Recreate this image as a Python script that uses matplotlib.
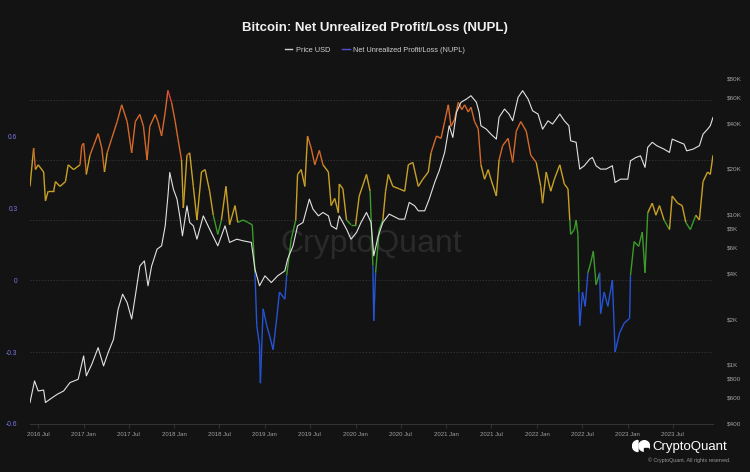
import matplotlib
matplotlib.use("Agg")
import matplotlib.pyplot as plt
import matplotlib.dates as mdates
from matplotlib.collections import LineCollection
from matplotlib.lines import Line2D
from matplotlib.patches import Wedge, Circle, Rectangle
import numpy as np
import pandas as pd

plt.rcParams['font.family'] = ['Liberation Sans', 'DejaVu Sans']

# NUPL readings (decimal year, value)
nupl_t = [2016.41, 2016.45, 2016.47, 2016.50, 2016.56, 2016.58, 2016.61, 2016.67, 2016.69, 2016.74,
          2016.80, 2016.83, 2016.89, 2016.96, 2016.98, 2017.00, 2017.03, 2017.07, 2017.11, 2017.16,
          2017.20, 2017.23, 2017.26, 2017.31, 2017.37, 2017.42, 2017.48, 2017.53, 2017.57, 2017.62,
          2017.66, 2017.70, 2017.73, 2017.79, 2017.82, 2017.86, 2017.90, 2017.93, 2017.97, 2018.01,
          2018.04, 2018.08, 2018.10, 2018.14, 2018.17, 2018.21, 2018.25, 2018.30, 2018.34, 2018.39,
          2018.43, 2018.48, 2018.52, 2018.57, 2018.61, 2018.67, 2018.70, 2018.76, 2018.81, 2018.86,
          2018.89, 2018.91, 2018.94, 2018.95, 2018.98, 2019.02, 2019.05, 2019.09, 2019.13, 2019.16,
          2019.22, 2019.24, 2019.29, 2019.34, 2019.36, 2019.40, 2019.44, 2019.47, 2019.51, 2019.55,
          2019.60, 2019.64, 2019.70, 2019.73, 2019.77, 2019.81, 2019.82, 2019.86, 2019.90, 2019.95,
          2020.00, 2020.04, 2020.12, 2020.16, 2020.19, 2020.20, 2020.22, 2020.26, 2020.30, 2020.33,
          2020.36, 2020.41, 2020.48, 2020.54, 2020.58, 2020.63, 2020.69, 2020.74, 2020.80, 2020.83,
          2020.89, 2020.94, 2020.98, 2021.02, 2021.05, 2021.09, 2021.13, 2021.17, 2021.20, 2021.24,
          2021.27, 2021.31, 2021.35, 2021.38, 2021.42, 2021.46, 2021.49, 2021.55, 2021.58, 2021.62,
          2021.68, 2021.73, 2021.77, 2021.82, 2021.88, 2021.93, 2021.99, 2022.04, 2022.06, 2022.10,
          2022.15, 2022.19, 2022.25, 2022.30, 2022.34, 2022.36, 2022.37, 2022.41, 2022.43, 2022.45,
          2022.46, 2022.47, 2022.50, 2022.53, 2022.56, 2022.59, 2022.62, 2022.65, 2022.69, 2022.70,
          2022.74, 2022.78, 2022.83, 2022.86, 2022.91, 2022.96, 2023.02, 2023.03, 2023.07, 2023.12,
          2023.16, 2023.19, 2023.22, 2023.27, 2023.31, 2023.35, 2023.40, 2023.46, 2023.49, 2023.55,
          2023.60, 2023.64, 2023.69, 2023.75, 2023.79, 2023.83, 2023.88, 2023.91, 2023.94]
nupl_v = [0.39, 0.55, 0.46, 0.48, 0.45, 0.33, 0.37, 0.37, 0.41, 0.39,
          0.41, 0.48, 0.46, 0.48, 0.56, 0.57, 0.44, 0.52, 0.56, 0.61,
          0.55, 0.45, 0.53, 0.59, 0.66, 0.73, 0.66, 0.53, 0.66, 0.69,
          0.64, 0.50, 0.64, 0.69, 0.66, 0.60, 0.70, 0.79, 0.74, 0.66,
          0.59, 0.50, 0.30, 0.52, 0.53, 0.39, 0.25, 0.45, 0.46, 0.37,
          0.27, 0.19, 0.25, 0.39, 0.23, 0.31, 0.24, 0.25, 0.24, 0.23,
          0.03, -0.19, -0.27, -0.43, -0.12, -0.19, -0.23, -0.29, -0.16, -0.05,
          -0.08, 0.02, 0.17, 0.25, 0.44, 0.46, 0.39, 0.60, 0.55, 0.48,
          0.54, 0.48, 0.45, 0.31, 0.34, 0.28, 0.40, 0.38, 0.25, 0.23,
          0.23, 0.35, 0.44, 0.37, 0.06, -0.17, 0.03, 0.21, 0.25, 0.37,
          0.44, 0.39, 0.38, 0.37, 0.48, 0.49, 0.39, 0.42, 0.45, 0.53,
          0.60, 0.59, 0.66, 0.73, 0.64, 0.67, 0.74, 0.71, 0.73, 0.70,
          0.72, 0.66, 0.63, 0.48, 0.42, 0.46, 0.42, 0.35, 0.50, 0.56,
          0.59, 0.49, 0.62, 0.66, 0.62, 0.52, 0.49, 0.39, 0.32, 0.45,
          0.37, 0.42, 0.48, 0.40, 0.38, 0.25, 0.19, 0.21, 0.25, 0.19,
          -0.05, -0.19, -0.05, -0.11, 0.03, 0.07, 0.12, -0.02, 0.03, -0.14,
          -0.05, -0.11, 0.00, -0.30, -0.22, -0.18, -0.16, 0.02, 0.16, 0.14,
          0.20, 0.03, 0.28, 0.32, 0.27, 0.31, 0.25, 0.21, 0.35, 0.32,
          0.31, 0.24, 0.21, 0.27, 0.25, 0.41, 0.45, 0.44, 0.52]

# BTC price readings (decimal year, USD)
price_t = [2016.41, 2016.46, 2016.50, 2016.56, 2016.58, 2016.63, 2016.71, 2016.78, 2016.85, 2016.94,
           2017.00, 2017.03, 2017.09, 2017.16, 2017.22, 2017.27, 2017.33, 2017.38, 2017.43, 2017.48,
           2017.53, 2017.57, 2017.62, 2017.67, 2017.71, 2017.75, 2017.81, 2017.86, 2017.90, 2017.93,
           2017.95, 2017.99, 2018.03, 2018.06, 2018.09, 2018.14, 2018.17, 2018.21, 2018.25, 2018.32,
           2018.39, 2018.48, 2018.56, 2018.61, 2018.69, 2018.76, 2018.85, 2018.89, 2018.94, 2019.00,
           2019.07, 2019.14, 2019.22, 2019.25, 2019.31, 2019.36, 2019.42, 2019.49, 2019.53, 2019.59,
           2019.64, 2019.70, 2019.73, 2019.79, 2019.82, 2019.90, 2019.95, 2020.01, 2020.06, 2020.12,
           2020.17, 2020.20, 2020.25, 2020.30, 2020.37, 2020.48, 2020.54, 2020.59, 2020.65, 2020.69,
           2020.76, 2020.81, 2020.87, 2020.92, 2020.98, 2021.03, 2021.07, 2021.11, 2021.16, 2021.22,
           2021.27, 2021.33, 2021.36, 2021.38, 2021.44, 2021.49, 2021.55, 2021.58, 2021.64, 2021.69,
           2021.73, 2021.79, 2021.84, 2021.90, 2021.95, 2022.01, 2022.06, 2022.12, 2022.17, 2022.25,
           2022.30, 2022.35, 2022.37, 2022.43, 2022.47, 2022.52, 2022.58, 2022.61, 2022.65, 2022.70,
           2022.76, 2022.83, 2022.86, 2022.92, 2023.00, 2023.03, 2023.09, 2023.14, 2023.19, 2023.22,
           2023.27, 2023.32, 2023.40, 2023.46, 2023.49, 2023.57, 2023.62, 2023.65, 2023.72, 2023.79,
           2023.83, 2023.88, 2023.91, 2023.94]
price_v = [556, 774, 664, 673, 556, 585, 631, 664, 755, 794,
           1136, 837, 1000, 1290, 975, 1195, 1468, 2320, 2930, 2570,
           2000, 2850, 4510, 4880, 3330, 4510, 5840, 6150, 8360, 13240,
           18940, 14680, 12590, 9740, 7170, 11360, 8800, 8360, 6810, 9740,
           7940, 6150, 8360, 6480, 6810, 6640, 6480, 4300, 3330, 3880,
           3500, 3880, 4190, 5010, 6150, 8360, 8800, 12590, 10800, 9740,
           10260, 9740, 8360, 7940, 9740, 7940, 6810, 7550, 8800, 10260,
           8800, 5270, 7170, 8800, 10000, 9260, 9260, 11970, 11360, 10520,
           10520, 12590, 16250, 19470, 25760, 38800, 32420, 47600, 55600, 58400,
           61500, 55600, 47600, 38800, 36800, 34100, 31600, 44100, 50100, 46400,
           41850, 60000, 66400, 58400, 48800, 46400, 36800, 41850, 39800, 46400,
           41850, 38800, 30800, 30100, 19950, 21000, 23250, 23850, 21000, 19950,
           19950, 21000, 16250, 17100, 17100, 22660, 23850, 24450, 20480, 27850,
           30100, 28560, 27100, 25760, 31600, 30100, 29280, 26400, 27100, 28560,
           34100, 36800, 38800, 44100]

nupl_ticks = [-0.6, -0.3, 0, 0.3, 0.6]
nupl_grid = [0.75, 0.5, 0.25, 0, -0.3]
price_ticks = [400, 600, 800, 1000, 2000, 4000, 6000, 8000, 10000, 20000, 40000, 60000, 80000]
price_labels = ['$400', '$600', '$800', '$1K', '$2K', '$4K', '$6K', '$8K', '$10K',
                '$20K', '$40K', '$60K', '$80K']

BG = '#131313'
ZONE_COLORS = ['#2553d4', '#3d9a2c', '#c9a126', '#d4692a', '#e23a45']


def to_date(y):
    year = int(y)
    start = pd.Timestamp(year=year, month=1, day=1)
    end = pd.Timestamp(year=year + 1, month=1, day=1)
    return start + (end - start) * (y - year)


def zone_color(v):
    if v < 0:
        return ZONE_COLORS[0]
    if v < 0.25:
        return ZONE_COLORS[1]
    if v < 0.5:
        return ZONE_COLORS[2]
    if v < 0.75:
        return ZONE_COLORS[3]
    return ZONE_COLORS[4]


nupl_x = mdates.date2num([to_date(t) for t in nupl_t])
price_x = mdates.date2num([to_date(t) for t in price_t])

fig = plt.figure(figsize=(7.5, 4.72), dpi=100, facecolor=BG)
ax = fig.add_axes([30 / 750, 1 - 424 / 472, 683 / 750, 360 / 472])
ax.set_facecolor(BG)

# NUPL line coloured by zone
pts = np.column_stack([nupl_x, nupl_v])
segs = np.stack([pts[:-1], pts[1:]], axis=1)
cols = [zone_color((a + b) / 2) for a, b in zip(nupl_v[:-1], nupl_v[1:])]
lc = LineCollection(segs, colors=cols, linewidths=1.0, zorder=3)
ax.add_collection(lc)

for g in nupl_grid:
    ax.axhline(g, color='#3a3a3a', lw=0.6, ls=(0, (1.5, 2)), zorder=1)

ax.set_xlim(nupl_x[0], nupl_x[-1])
ax.set_ylim(-0.6, 0.9)
ax.set_yticks(nupl_ticks)
ax.set_yticklabels(['-0.6', '-0.3', '0', '0.3', '0.6'])
ax.tick_params(axis='y', length=0, pad=9, labelsize=4.8, labelcolor='#7a78e6')
ax.xaxis.set_major_locator(mdates.MonthLocator(bymonth=[1, 7]))
ax.xaxis.set_major_formatter(mdates.DateFormatter('%Y %b'))
ax.tick_params(axis='x', length=3, width=0.6, color='#3a3a3a', pad=3,
               labelsize=4.3, labelcolor='#a0a0a0')
for s in ['top', 'left', 'right']:
    ax.spines[s].set_visible(False)
ax.spines['bottom'].set_color('#3a3a3a')
ax.spines['bottom'].set_linewidth(0.6)

# watermark
ax.text(0.5, 0.5, 'CryptoQuant', transform=ax.transAxes, ha='center', va='center',
        fontsize=23, color='#2a2a2a', zorder=0)

# price on log axis
ax2 = ax.twinx()
ax2.plot(price_x, price_v, color='#e2e2e2', lw=0.8, zorder=4)
ax2.set_yscale('log')
ax2.set_ylim(400, 100000)
ax2.set_yticks(price_ticks)
ax2.set_yticklabels(price_labels)
ax2.yaxis.set_minor_locator(matplotlib.ticker.NullLocator())
ax2.tick_params(axis='y', length=0, pad=10, labelsize=4.6, labelcolor='#a0a0a0')
for s in ax2.spines.values():
    s.set_visible(False)
ax2.set_xlim(nupl_x[0], nupl_x[-1])

fig.text(0.5, 1 - 28 / 472, 'Bitcoin: Net Unrealized Profit/Loss (NUPL)', ha='center',
         va='center', fontsize=9.5, fontweight='bold', color='#f0f0f0')

handles = [Line2D([], [], color='#cfcfcf', lw=1),
           Line2D([], [], color='#4f4fd8', lw=1)]
fig.legend(handles, ['Price USD', 'Net Unrealized Profit/Loss (NUPL)'], loc='center',
           bbox_to_anchor=(0.5, 1 - 50 / 472), ncol=2, frameon=False, fontsize=5.3,
           labelcolor='#d0d0d0', handlelength=1.0, handletextpad=0.5, columnspacing=1.6)

# logo, bottom right
lax = fig.add_axes([632 / 750, 1 - 453 / 472, 18 / 750, 14 / 472])
lax.set_xlim(0, 18)
lax.set_ylim(0, 14)
lax.axis('off')
lax.add_patch(Wedge((6, 7), 5.5, 90, 270, color='white'))
lax.add_patch(Circle((12.3, 7), 5.3, color='white'))
lax.add_patch(Rectangle((12.3, 1.4), 3.2, 3.2, color=BG))
fig.text(652 / 750, 1 - 447 / 472, 'CryptoQuant', ha='left', va='center',
         fontsize=9.5, color='white')
fig.text(731 / 750, 1 - 460 / 472, '\u00a9 CryptoQuant. All rights reserved.', ha='right',
         va='center', fontsize=3.8, color='#9a9a9a')

fig.savefig('out.png', dpi=100, facecolor=BG)
